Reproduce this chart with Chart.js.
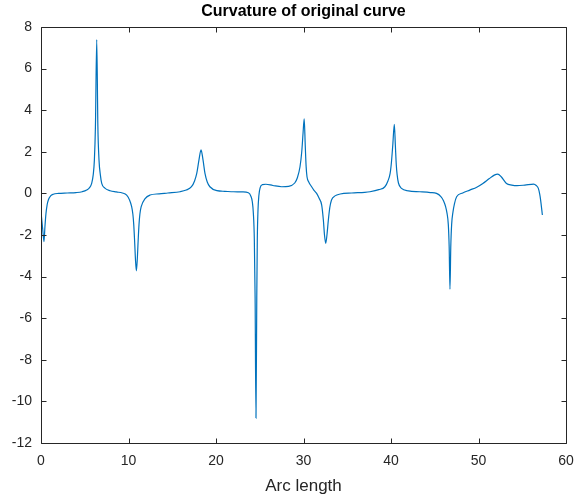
<!DOCTYPE html>
<html>
<head>
<meta charset="utf-8">
<script src="https://cdn.jsdelivr.net/npm/chart.js@4.4.1/dist/chart.umd.min.js"></script>
<style>
html,body{margin:0;padding:0;background:#fff;}
#wrap{width:577px;height:500px;position:relative;}
</style>
</head>
<body>
<div id="wrap"><canvas id="c"></canvas></div>
<script>
const chartTitle = "Curvature of original curve";
const xLabel = "Arc length";
const xTicks = [0, 10, 20, 30, 40, 50, 60];
const yTicks = [-12, -10, -8, -6, -4, -2, 0, 2, 4, 6, 8];

const arcLength = [
  0.05, 0.2, 0.34, 0.45, 0.57, 0.7, 0.84, 1.1, 1.4, 2.0, 3.0, 4.0, 4.7, 5.22, 5.55, 5.79, 5.97, 6.1, 6.22, 6.37,
  6.5, 6.63, 6.78, 6.94, 7.3, 7.9, 8.6, 9.3, 9.79, 10.1, 10.36, 10.5, 10.6, 10.7, 10.8, 10.9, 11.0, 11.1, 11.2, 11.3,
  11.45, 11.9, 12.46, 13.5, 14.5, 15.9, 16.6, 17.2, 17.55, 17.8, 18.05, 18.29, 18.52, 18.74, 19.0, 19.3, 20.1, 21.0, 22.0, 23.0,
  23.7, 24.0, 24.15, 24.27, 24.38, 24.47, 24.57, 24.66, 24.72, 24.8, 24.9, 25.05, 25.3, 25.7, 26.5, 27.5, 28.3, 29.0, 29.3, 29.6,
  29.8, 29.95, 30.08, 30.2, 30.3, 30.4, 30.6, 30.93, 31.2, 31.5, 31.8, 32.08, 32.27, 32.4, 32.54, 32.68, 32.84, 33.0, 33.2, 33.6,
  34.2, 35.5, 37.0, 37.6, 38.6, 39.3, 39.65, 39.9, 40.05, 40.2, 40.38, 40.5, 40.6, 40.7, 40.85, 41.2, 42.0, 43.3, 44.5, 45.2,
  45.7, 46.0, 46.25, 46.4, 46.55, 46.65, 46.74, 46.83, 46.93, 47.08, 47.25, 47.5, 48.2, 49.0, 49.8, 50.5, 51.2, 51.8, 52.2, 52.6,
  53.2, 53.8, 54.4, 55.3, 56.3, 56.6, 56.84, 57.0, 57.1, 57.3
];
const curvature = [
  -1.1, -1.75, -2.32, -1.6, -0.96, -0.55, -0.32, -0.12, -0.04, 0.0, 0.02, 0.04, 0.08, 0.16, 0.28, 0.48, 0.9, 1.6, 3.2, 7.4,
  3.2, 1.6, 0.9, 0.48, 0.25, 0.13, 0.07, 0.02, -0.08, -0.3, -0.64, -1.0, -1.5, -2.3, -3.2, -3.72, -3.2, -2.3, -1.5, -1.0,
  -0.64, -0.25, -0.08, -0.02, 0.02, 0.08, 0.16, 0.32, 0.6, 0.96, 1.6, 2.09, 1.6, 0.96, 0.55, 0.32, 0.13, 0.1, 0.08, 0.07,
  0.03, -0.15, -0.4, -0.96, -2.2, -5.0, -10.8, -5.0, -2.2, -0.8, -0.1, 0.28, 0.42, 0.44, 0.38, 0.32, 0.34, 0.5, 0.75, 1.28,
  2.0, 2.9, 3.59, 2.3, 1.3, 0.8, 0.55, 0.32, 0.15, 0.0, -0.25, -0.56, -1.28, -2.0, -2.4, -2.0, -1.28, -0.7, -0.32, -0.12,
  -0.03, 0.02, 0.05, 0.08, 0.18, 0.32, 0.6, 0.96, 1.5, 2.3, 3.32, 2.3, 1.4, 0.9, 0.5, 0.24, 0.12, 0.08, 0.04, 0.0,
  -0.15, -0.35, -0.65, -0.95, -1.5, -2.6, -4.6, -2.6, -1.5, -0.9, -0.5, -0.16, 0.02, 0.16, 0.3, 0.48, 0.7, 0.88, 0.93, 0.8,
  0.48, 0.4, 0.37, 0.4, 0.45, 0.38, 0.24, -0.05, -0.32, -1.04
];

const axisColor = '#262626';
const fontFam = '"Liberation Sans", Arial, Helvetica, sans-serif';

const boxPlugin = {
  id: 'matlabBox',
  afterDraw(chart) {
    const {ctx, chartArea: a, scales: {x, y}} = chart;
    ctx.save();
    ctx.strokeStyle = axisColor;
    ctx.lineWidth = 1;
    const L = Math.round(a.left) + 0.5, R = Math.round(a.right) + 0.5;
    const T = Math.round(a.top) + 0.5, B = Math.round(a.bottom) + 0.5;
    ctx.beginPath();
    ctx.rect(L, T, R - L, B - T);
    const tl = 5;
    xTicks.forEach(v => {
      const px = Math.round(x.getPixelForValue(v)) + 0.5;
      ctx.moveTo(px, B); ctx.lineTo(px, B - tl);
      ctx.moveTo(px, T); ctx.lineTo(px, T + tl);
    });
    yTicks.forEach(v => {
      const py = Math.round(y.getPixelForValue(v)) + 0.5;
      ctx.moveTo(L, py); ctx.lineTo(L + tl, py);
      ctx.moveTo(R, py); ctx.lineTo(R - tl, py);
    });
    ctx.stroke();
    ctx.fillStyle = '#000';
    ctx.font = 'bold 16px ' + fontFam;
    ctx.textAlign = 'center';
    ctx.textBaseline = 'alphabetic';
    ctx.fillText(chartTitle, (a.left + a.right) / 2, 16);
    ctx.restore();
  }
};

new Chart(document.getElementById('c'), {
  type: 'line',
  data: {
    datasets: [{
      data: arcLength.map((v, i) => ({x: v, y: curvature[i]})),
      borderColor: '#0072BD',
      borderWidth: 1.2,
      pointRadius: 0,
      fill: false,
      cubicInterpolationMode: 'monotone'
    }]
  },
  options: {
    responsive: true,
    maintainAspectRatio: false,
    animation: false,
    layout: {padding: {top: 27, right: 11, left: 0, bottom: 0}},
    plugins: {legend: {display: false}, title: {display: false}, tooltip: {enabled: false}},
    scales: {
      x: {
        type: 'linear', min: 0, max: 60,
        afterFit: s => { s.height = 57; s.paddingLeft = 0; s.paddingRight = 0; },
        afterBuildTicks: s => { s.ticks = xTicks.map(v => ({value: v})); },
        grid: {display: false, drawTicks: false},
        border: {display: false},
        ticks: {color: axisColor, padding: 10, font: {family: fontFam, size: 14}, maxRotation: 0},
        title: {display: true, text: xLabel, color: axisColor, font: {family: fontFam, size: 17}, padding: {top: 0, bottom: 3}}
      },
      y: {
        type: 'linear', min: -12, max: 8,
        afterFit: s => { s.width = 41; s.paddingTop = 0; s.paddingBottom = 0; },
        afterBuildTicks: s => { s.ticks = yTicks.map(v => ({value: v})); },
        grid: {display: false, drawTicks: false},
        border: {display: false},
        ticks: {color: axisColor, padding: 9, font: {family: fontFam, size: 14}}
      }
    }
  },
  plugins: [boxPlugin]
});
</script>
</body>
</html>
